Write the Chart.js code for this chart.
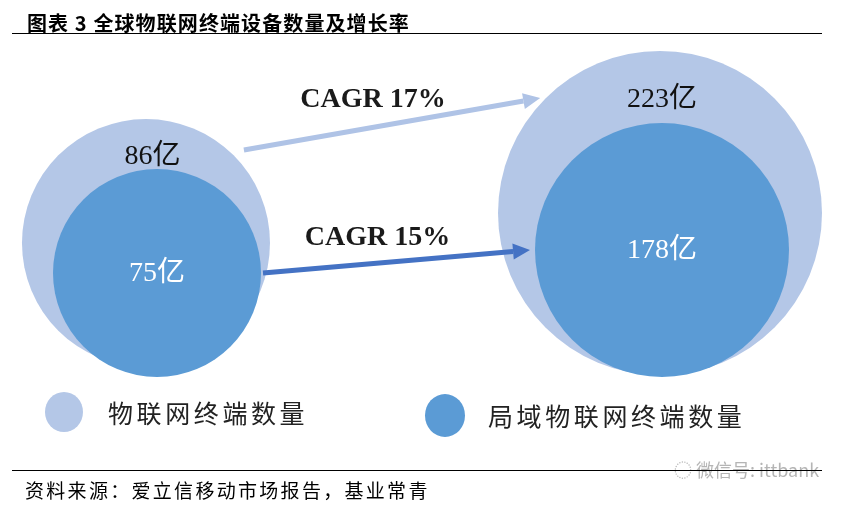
<!DOCTYPE html>
<html>
<head>
<meta charset="utf-8">
<script src="https://cdn.jsdelivr.net/npm/chart.js@4"></script>
<style>
  html, body { margin: 0; padding: 0; background: #fff; }
  #wrap { position: relative; width: 843px; height: 505px; overflow: hidden; }
  #c { position: absolute; left: 0; top: 0; }
  .abs { position: absolute; white-space: nowrap; }
  #title { left: 27px; top: 13px; font: bold 20px/20px "Noto Sans CJK SC", sans-serif; letter-spacing: 1.1px; color: #000; }
  .rule { position: absolute; left: 12px; width: 810px; height: 1px; background: #000; }
  #source { left: 25px; top: 480px; font: 19px/19px "Noto Sans CJK SC", sans-serif; letter-spacing: 2.3px; color: #000; }
  #wm { left: 674px; top: 460px; font: 18px/18px "Noto Sans CJK SC", sans-serif; color: #b5b5b5; }
  .dot { position: absolute; border-radius: 50%; }
  .legtxt { font: 25px/26px "Noto Sans CJK SC", sans-serif; letter-spacing: 3.6px; color: #222; }
</style>
</head>
<body>
<div id="wrap">
  <canvas id="c" width="843" height="505"></canvas>
  <div id="title" class="abs"></div>
  <div id="wm" class="abs">◌ 微信号: ittbank</div>
  <div class="rule" style="top:33px"></div>
  <div class="rule" style="top:470px"></div>
  <div id="source" class="abs"></div>
  <div id="leg1dot" class="dot"></div>
  <div id="leg1txt" class="abs legtxt"></div>
  <div id="leg2dot" class="dot"></div>
  <div id="leg2txt" class="abs legtxt"></div>
</div>
<script>
// ---------------- data ----------------
const titleText = '图表 3 全球物联网终端设备数量及增长率';
const sourceText = '资料来源：爱立信移动市场报告，基业常青';
const periods = ['期初', '期末'];
const seriesNames = ['物联网终端数量', '局域物联网终端数量'];
const totalDevices = [86, 223];      // 亿
const lanDevices = [75, 178];        // 亿
const cagrLabels = ['CAGR 17%', 'CAGR 15%'];
const unit = '亿';

// ---------------- styles ----------------
const lightBlue = '#b4c7e7';
const midBlue = '#5b9bd5';
const darkBlue = '#4472c4';
const lightArrow = '#afc3e6';
const outerRadius = [124, 162];
const innerRadius = [104, 127];

document.getElementById('title').textContent = titleText;
document.getElementById('source').textContent = sourceText;

function placeLegend(dotId, txtId, cx, cy, w, h, color, tx, text) {
  const d = document.getElementById(dotId);
  d.style.left = (cx - w / 2) + 'px'; d.style.top = (cy - h / 2) + 'px';
  d.style.width = w + 'px'; d.style.height = h + 'px'; d.style.background = color;
  const t = document.getElementById(txtId);
  t.textContent = text; t.style.left = tx + 'px'; t.style.top = (cy - 13) + 'px';
}
placeLegend('leg1dot', 'leg1txt', 64, 412, 38, 40, lightBlue, 108, seriesNames[0]);
placeLegend('leg2dot', 'leg2txt', 445, 415, 40, 43, midBlue, 488, seriesNames[1]);

// ---------------- annotation plugin ----------------
function drawArrow(ctx, x1, y1, x2, y2, color, width, headLen, headHalf) {
  const ang = Math.atan2(y2 - y1, x2 - x1);
  const bx = x2 - headLen * Math.cos(ang), by = y2 - headLen * Math.sin(ang);
  ctx.save();
  ctx.strokeStyle = color; ctx.fillStyle = color; ctx.lineWidth = width; ctx.lineCap = 'butt';
  ctx.beginPath(); ctx.moveTo(x1, y1); ctx.lineTo(bx, by); ctx.stroke();
  ctx.beginPath();
  ctx.moveTo(x2, y2);
  ctx.lineTo(bx + headHalf * Math.sin(ang), by - headHalf * Math.cos(ang));
  ctx.lineTo(bx - headHalf * Math.sin(ang), by + headHalf * Math.cos(ang));
  ctx.closePath(); ctx.fill();
  ctx.restore();
}
function edgePoint(el, deg, extra) {
  const a = deg * Math.PI / 180;
  const r = el.options.radius + extra;
  return { x: el.x + r * Math.cos(a), y: el.y + r * Math.sin(a) };
}

const annotate = {
  id: 'annotate',
  afterDatasetsDraw(chart) {
    const ctx = chart.ctx;
    const outer = chart.getDatasetMeta(0).data;
    const inner = chart.getDatasetMeta(1).data;

    // arrows
    const a1s = edgePoint(outer[0], -43.5, 11), a1e = edgePoint(outer[1], -136.2, 4);
    drawArrow(ctx, a1s.x, a1s.y, a1e.x, a1e.y, lightArrow, 5, 17, 8);
    const a2s = edgePoint(inner[0], 0, 2), a2e = edgePoint(inner[1], 180, 5);
    drawArrow(ctx, a2s.x, a2s.y, a2e.x, a2e.y, darkBlue, 5, 17, 8);

    ctx.save();
    ctx.textAlign = 'center'; ctx.textBaseline = 'middle';
    // CAGR labels
    ctx.font = 'bold 28px "Liberation Serif", serif';
    ctx.fillStyle = '#1a1a1a';
    [[a1s, a1e], [a2s, a2e]].forEach((p, i) => {
      const mx = (p[0].x + p[1].x) / 2, my = (p[0].y + p[1].y) / 2;
      ctx.fillText(cagrLabels[i], mx - 19, my - 24);
    });
    // value labels
    ctx.font = '28px "Liberation Serif", "Noto Sans CJK SC", serif';
    for (let i = 0; i < periods.length; i++) {
      const o = outer[i], n = inner[i];
      const oTop = o.y - o.options.radius, nTop = n.y - n.options.radius;
      ctx.fillStyle = '#111';
      ctx.fillText(totalDevices[i] + unit, (o.x + n.x) / 2 + 1, (oTop + nTop) / 2 + 13);
      ctx.fillStyle = '#ffffff';
      ctx.fillText(lanDevices[i] + unit, n.x, n.y + 1);
    }
    ctx.restore();
  }
};

// ---------------- chart ----------------
new Chart(document.getElementById('c'), {
  type: 'bubble',
  data: {
    datasets: [
      {
        label: seriesNames[0],
        data: totalDevices.map((v, i) => ({ x: i, y: v })),
        backgroundColor: lightBlue, borderWidth: 0,
        radius: c => outerRadius[c.dataIndex],
        xAxisID: 'xOuter', yAxisID: 'yOuter', order: 2, clip: false
      },
      {
        label: seriesNames[1],
        data: lanDevices.map((v, i) => ({ x: i, y: v })),
        backgroundColor: midBlue, borderWidth: 0,
        radius: c => innerRadius[c.dataIndex],
        xAxisID: 'xInner', yAxisID: 'yInner', order: 1, clip: false
      }
    ]
  },
  options: {
    responsive: false, animation: false, events: [],
    layout: { padding: 0, autoPadding: false },
    plugins: { legend: { display: false }, tooltip: { enabled: false } },
    scales: {
      xOuter: { axis: 'x', type: 'linear', display: false, min: -0.2840, max: 1.3560 },
      yOuter: { axis: 'y', type: 'linear', display: false, min: -1110.4, max: 1195.6 },
      xInner: { axis: 'x', type: 'linear', display: false, min: -0.3109, max: 1.3584 },
      yInner: { axis: 'y', type: 'linear', display: false, min: -963.9, max: 1297.6 }
    }
  },
  plugins: [annotate]
});
</script>
</body>
</html>
